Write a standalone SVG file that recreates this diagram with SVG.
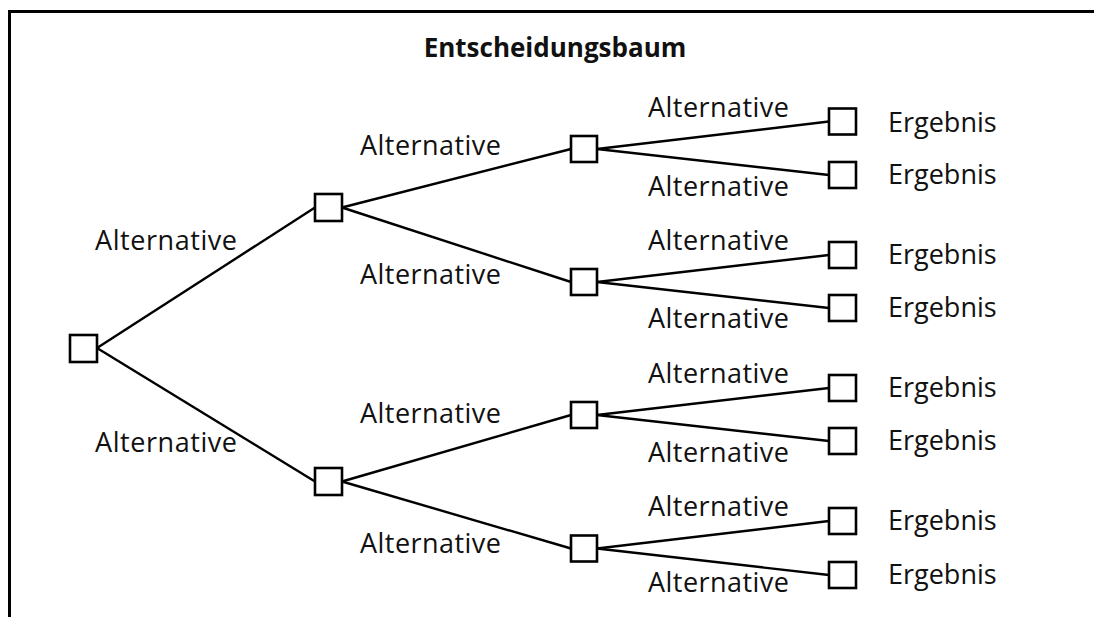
<svg xmlns="http://www.w3.org/2000/svg" width="1094" height="617" viewBox="0 0 1094 617">
  <style>
    .box { fill: #ffffff; stroke: #000000; stroke-width: 2.6; }
    .edge { stroke: #000000; stroke-width: 2.4; fill: none; }
    .lbl { font-family: "Open Sans", "Liberation Sans", sans-serif; font-size: 27px; fill: #111111; }
    .title { font-family: "Open Sans", "Liberation Sans", sans-serif; font-size: 26px; font-weight: bold; fill: #111111; }
  </style>
  <rect width="1094" height="617" fill="#ffffff"/>
  <!-- frame -->
  <path d="M9.5,617 V11.5 H1094" fill="none" stroke="#000000" stroke-width="3"/>
  <text class="title" x="555" y="57" text-anchor="middle">Entscheidungsbaum</text>

  <g id="connectors">
    <line class="edge" x1="97" y1="348" x2="315" y2="207.5"/>
    <line class="edge" x1="97" y1="348" x2="315" y2="481.5"/>
    <line class="edge" x1="342" y1="207.5" x2="571" y2="149"/>
    <line class="edge" x1="342" y1="207.5" x2="571" y2="282"/>
    <line class="edge" x1="342" y1="481.5" x2="571" y2="415"/>
    <line class="edge" x1="342" y1="481.5" x2="571" y2="548.5"/>
    <line class="edge" x1="597" y1="149" x2="829" y2="121.5"/>
    <line class="edge" x1="597" y1="149" x2="829" y2="175"/>
    <line class="edge" x1="597" y1="282" x2="829" y2="255"/>
    <line class="edge" x1="597" y1="282" x2="829" y2="308"/>
    <line class="edge" x1="597" y1="415" x2="829" y2="388"/>
    <line class="edge" x1="597" y1="415" x2="829" y2="441"/>
    <line class="edge" x1="597" y1="548.5" x2="829" y2="521"/>
    <line class="edge" x1="597" y1="548.5" x2="829" y2="575"/>
  </g>

  <g id="edge-labels">
    <text class="lbl" x="95" y="250" textLength="142">Alternative</text>
    <text class="lbl" x="95" y="452" textLength="142">Alternative</text>
    <text class="lbl" x="360" y="155" textLength="141">Alternative</text>
    <text class="lbl" x="360" y="284" textLength="141">Alternative</text>
    <text class="lbl" x="360" y="423" textLength="141">Alternative</text>
    <text class="lbl" x="360" y="553" textLength="141">Alternative</text>
    <text class="lbl" x="648" y="117" textLength="141">Alternative</text>
    <text class="lbl" x="648" y="196" textLength="141">Alternative</text>
    <text class="lbl" x="648" y="250" textLength="141">Alternative</text>
    <text class="lbl" x="648" y="328" textLength="141">Alternative</text>
    <text class="lbl" x="648" y="383" textLength="141">Alternative</text>
    <text class="lbl" x="648" y="462" textLength="141">Alternative</text>
    <text class="lbl" x="648" y="516" textLength="141">Alternative</text>
    <text class="lbl" x="648" y="592" textLength="141">Alternative</text>
  </g>

  <g id="root"><rect class="box" x="70" y="335" width="27" height="27"/></g>
  <g id="n1a"><rect class="box" x="315" y="194" width="27" height="27"/></g>
  <g id="n1b"><rect class="box" x="315" y="468" width="27" height="27"/></g>
  <g id="n2a"><rect class="box" x="571" y="136" width="26" height="26"/></g>
  <g id="n2b"><rect class="box" x="571" y="269" width="26" height="26"/></g>
  <g id="n2c"><rect class="box" x="571" y="402" width="26" height="26"/></g>
  <g id="n2d"><rect class="box" x="571" y="535.5" width="26" height="26"/></g>

  <g id="leaf1"><rect class="box" x="829" y="108.5" width="27" height="26"/><text class="lbl" x="888" y="132">Ergebnis</text></g>
  <g id="leaf2"><rect class="box" x="829" y="162" width="27" height="26"/><text class="lbl" x="888" y="184">Ergebnis</text></g>
  <g id="leaf3"><rect class="box" x="829" y="242" width="27" height="26"/><text class="lbl" x="888" y="264">Ergebnis</text></g>
  <g id="leaf4"><rect class="box" x="829" y="295" width="27" height="26"/><text class="lbl" x="888" y="317">Ergebnis</text></g>
  <g id="leaf5"><rect class="box" x="829" y="375" width="27" height="26"/><text class="lbl" x="888" y="397">Ergebnis</text></g>
  <g id="leaf6"><rect class="box" x="829" y="428" width="27" height="26"/><text class="lbl" x="888" y="450">Ergebnis</text></g>
  <g id="leaf7"><rect class="box" x="829" y="508" width="27" height="26"/><text class="lbl" x="888" y="530">Ergebnis</text></g>
  <g id="leaf8"><rect class="box" x="829" y="562" width="27" height="26"/><text class="lbl" x="888" y="584">Ergebnis</text></g>
</svg>
